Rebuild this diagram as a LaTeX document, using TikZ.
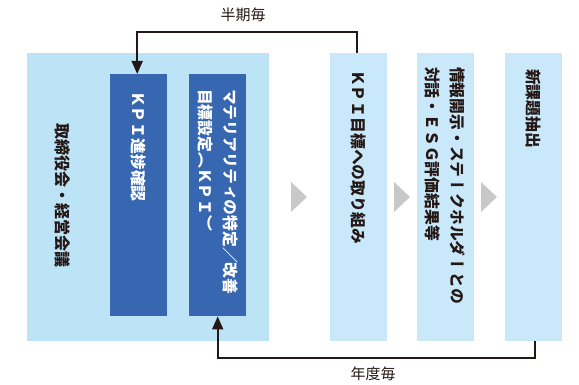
\documentclass[tikz,border=0pt]{standalone}
\usepackage{fontspec}
\usetikzlibrary{arrows.meta}
\newfontfamily\vjp[Vertical=RotatedGlyphs]{Noto Sans CJK JP}
\newfontfamily\hjp{Noto Sans CJK JP}
\definecolor{boardblue}{HTML}{BDE3F7}
\definecolor{darkblue}{HTML}{3767B1}
\definecolor{paleblue}{HTML}{C9E8F9}
\definecolor{chevgray}{HTML}{C8C8C8}
\definecolor{ink}{HTML}{231815}
\tikzset{
  boardbox/.style={fill=boardblue, draw=none, anchor=north west, minimum width=242pt, minimum height=288pt, inner sep=0pt},
  darkbox/.style={fill=darkblue, draw=none, anchor=north west, minimum width=57pt, minimum height=242pt, inner sep=0pt},
  palebox/.style={fill=paleblue, draw=none, anchor=north west, minimum width=57pt, minimum height=288pt, inner sep=0pt},
  vtext/.style={rotate=-90, anchor=west, inner sep=0pt, align=left, font=\vjp\bfseries\fontsize{15.8}{25}\selectfont},
  chev/.style={fill=chevgray, draw=none},
  conn/.style={draw=ink, line width=1.6pt, -{Triangle[length=13pt,width=11pt]}},
  lbl/.style={text=ink, font=\hjp\fontsize{15}{18}\selectfont, inner sep=0pt}
}
\begin{document}
\begin{tikzpicture}[x=1pt,y=-1pt]
\useasboundingbox (0,0) rectangle (579,385);
% boxes
\node[boardbox] (board) at (27,53) {};
\node[darkbox] (b1) at (110,74) {};
\node[darkbox] (b2) at (189,74) {};
\node[palebox] (b3) at (330,53) {};
\node[palebox] (b4) at (417,53) {};
\node[palebox] (b5) at (505,53) {};
% texts
\node[vtext, text=ink, font=\vjp\bfseries\fontsize{16}{25}\selectfont] (tboard) at (63,123) {取締役会・経営会議};
\node[vtext, text=white] (t1) at (138.5,91) {ＫＰＩ進捗確認};
\node[vtext, text=white] (t2) at (217.5,89) {マテリアリティの特定／改善\\目標設定（ＫＰＩ）};
\node[vtext, text=ink] (t3) at (358.5,70) {ＫＰＩ目標への取り組み};
\node[vtext, text=ink] (t4) at (445.5,67) {情報開示・ステークホルダーとの\\対話・ＥＳＧ評価結果等};
\node[vtext, text=ink] (t5) at (533.5,69) {新課題抽出};
% chevrons
\fill[chev] (291,182) -- (307,197) -- (291,212) -- cycle;
\fill[chev] (394,182) -- (410,197) -- (394,212) -- cycle;
\fill[chev] (481,182) -- (497,197) -- (481,212) -- cycle;
% connectors
\coordinate (toprail) at (0,32);
\coordinate (botrail) at (0,358);
\draw[conn] ([xshift=-2pt]b3.north) -- ([xshift=-2pt]b3.north |- toprail) -| ([xshift=-1.5pt]b1.north);
\draw[conn] ([xshift=1.5pt]b5.south) -- ([xshift=1.5pt]b5.south |- botrail) -| (b2.south);
% labels
\node[lbl] (lhalf) at (243,15) {半期毎};
\node[lbl] (lyear) at (373,374) {年度毎};
\end{tikzpicture}
\end{document}
